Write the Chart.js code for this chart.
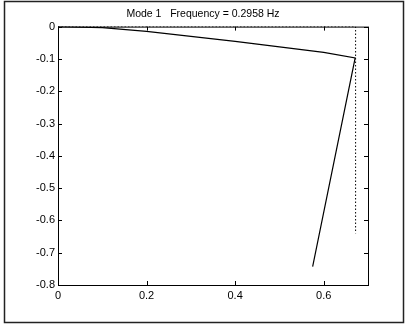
<!DOCTYPE html>
<html>
<head>
<meta charset="utf-8">
<script src="https://cdn.jsdelivr.net/npm/chart.js@4"></script>
<style>
  html, body { margin: 0; padding: 0; background: #fff; }
  canvas { display: block; }
</style>
</head>
<body>
<canvas id="myChart" width="406" height="326"></canvas>
<script>
// mode shape data
const deformedX = [0, 0.1, 0.2, 0.3, 0.4, 0.5, 0.6, 0.671, 0.575];
const deformedY = [0, -0.003, -0.015, -0.03, -0.046, -0.063, -0.08, -0.097, -0.743];
const undeformedX = [0, 0.672, 0.672];
const undeformedY = [0, 0, -0.64];

const xTicks = [0, 0.2, 0.4, 0.6];
const xTickLabels = ['0', '0.2', '0.4', '0.6'];
const yTicks = [0, -0.1, -0.2, -0.3, -0.4, -0.5, -0.6, -0.7, -0.8];
const yTickLabels = ['0', '-0.1', '-0.2', '-0.3', '-0.4', '-0.5', '-0.6', '-0.7', '-0.8'];

const titleText = 'Mode 1   Frequency = 0.2958 Hz';

function toPoints(xs, ys) {
    return xs.map((x, i) => ({ x: x, y: ys[i] }));
}

// frame around figure + box and inward ticks on all four sides (matlab style)
const matlabBox = {
    id: 'matlabBox',
    beforeDraw(chart) {
        const ctx = chart.ctx;
        ctx.save();
        ctx.strokeStyle = '#222';
        ctx.lineWidth = 1.5;
        ctx.strokeRect(4.5, 1.5, 399, 321);
        ctx.restore();
    },
    afterDatasetsDraw(chart) {
        const ctx = chart.ctx;
        const a = chart.chartArea;
        const xs = chart.scales.x, ys = chart.scales.y;
        ctx.save();
        ctx.strokeStyle = '#000';
        ctx.lineWidth = 1;
        ctx.strokeRect(a.left + 0.5, a.top + 0.5, a.right - a.left, a.bottom - a.top);
        ctx.beginPath();
        xTicks.forEach(v => {
            const px = Math.round(xs.getPixelForValue(v)) + 0.5;
            ctx.moveTo(px, a.bottom); ctx.lineTo(px, a.bottom - 4);
            ctx.moveTo(px, a.top); ctx.lineTo(px, a.top + 4);
        });
        yTicks.forEach(v => {
            const py = Math.round(ys.getPixelForValue(v)) + 0.5;
            ctx.moveTo(a.left, py); ctx.lineTo(a.left + 4, py);
            ctx.moveTo(a.right, py); ctx.lineTo(a.right - 4, py);
        });
        ctx.stroke();
        ctx.restore();
    }
};

const ctx = document.getElementById('myChart').getContext('2d');
new Chart(ctx, {
    type: 'scatter',
    data: {
        datasets: [{
            label: 'undeformed',
            data: toPoints(undeformedX, undeformedY),
            showLine: true,
            borderColor: '#000',
            borderWidth: 1,
            borderDash: [1.5, 2],
            pointRadius: 0,
            fill: false
        }, {
            label: 'mode 1',
            data: toPoints(deformedX, deformedY),
            showLine: true,
            borderColor: '#000',
            borderWidth: 1.2,
            pointRadius: 0,
            fill: false
        }]
    },
    options: {
        responsive: false,
        animation: false,
        layout: { padding: 0 },
        plugins: {
            legend: { display: false },
            tooltip: { enabled: false },
            title: {
                display: true,
                text: titleText,
                color: '#000',
                font: { family: 'Arial, "Liberation Sans"', size: 10.5, weight: 'normal' },
                padding: { top: 8, bottom: 6 }
            }
        },
        scales: {
            x: {
                type: 'linear',
                min: 0,
                max: 0.7,
                afterBuildTicks: scale => { scale.ticks = xTicks.map(v => ({ value: v })); },
                afterFit: scale => { scale.height = 41; },
                grid: { display: false, drawTicks: false },
                border: { display: false },
                ticks: {
                    color: '#000',
                    padding: 4,
                    maxRotation: 0,
                    font: { family: 'Arial, "Liberation Sans"', size: 11 },
                    callback: v => xTickLabels[xTicks.indexOf(v)]
                }
            },
            y: {
                type: 'linear',
                min: -0.8,
                max: 0,
                afterBuildTicks: scale => { scale.ticks = yTicks.map(v => ({ value: v })); },
                afterFit: scale => { scale.width = 58; },
                grid: { display: false, drawTicks: false },
                border: { display: false },
                ticks: {
                    color: '#000',
                    padding: 3,
                    font: { family: 'Arial, "Liberation Sans"', size: 11 },
                    callback: v => yTickLabels[yTicks.findIndex(t => Math.abs(t - v) < 1e-9)]
                }
            },
            // empty right-hand scale, only reserves the right margin so the title stays centred on the figure
            yRight: {
                type: 'linear',
                position: 'right',
                min: -0.8,
                max: 0,
                afterFit: scale => { scale.width = 38; },
                grid: { display: false, drawTicks: false },
                border: { display: false },
                ticks: { display: false }
            }
        }
    },
    plugins: [matlabBox]
});
</script>
</body>
</html>
